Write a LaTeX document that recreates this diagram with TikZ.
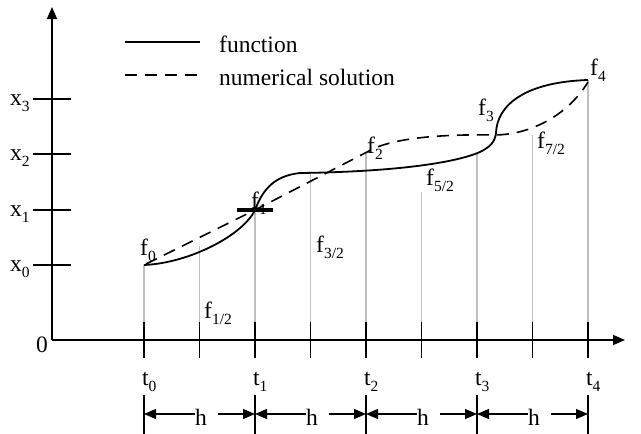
\documentclass[tikz,border=0pt]{standalone}
\usepackage{fontspec}
\setmainfont{Liberation Serif}
\usetikzlibrary{arrows.meta}
\newcommand{\sbx}[1]{\raisebox{-6pt}{\fontsize{15.5}{15.5}\selectfont #1}}
\begin{document}
\begin{tikzpicture}[x=1pt,y=-1pt,
  lab/.style={inner sep=0pt, font=\fontsize{23.5}{26}\selectfont, anchor=base west},
  axis/.style={line width=1.6pt, -{Triangle[length=12pt,width=10pt]}},
  tickmark/.style={line width=1.6pt},
  guide/.style={line width=1.6pt, draw=black!25},
  fun/.style={line width=1.8pt},
  num/.style={line width=1.6pt, dash pattern=on 12pt off 8pt},
  dimarr/.style={line width=1.3pt, -{Triangle[length=12pt,width=10pt]}},
  dimline/.style={line width=1.6pt},
]
\useasboundingbox (0,0) rectangle (641,434);

% axes
\coordinate (O) at (52,340);
\coordinate (Ytop) at (52,7);
\coordinate (Xend) at (625,340);
\draw[axis] (O) -- (Ytop);
\draw[axis] (O) -- (Xend);
\node[lab] (zero) at (36,352) {0};

% y ticks and labels
\foreach \y/\n in {99/3,154/2,210/1,265/0}{
  \coordinate (ya\n) at (33,\y);
  \coordinate (yb\n) at (71,\y);
  \draw[tickmark] (ya\n) -- (yb\n);
  \node[lab] (xl\n) at (10,\y+6) {x\sbx{\n}};
}

% guide lines and x ticks
\foreach \i/\top in {0/265,1/246,2/210,3/173,4/153,5/192,6/153,7/135,8/80}{
  \pgfmathsetmacro{\xx}{144+55.5*\i}
  \coordinate (g\i) at (\xx,\top);
  \coordinate (ga\i) at (\xx,322);
  \coordinate (gb\i) at (\xx,358);
  \draw[guide] (g\i) -- (ga\i);
  \draw[tickmark] (ga\i) -- (gb\i);
}

% t labels, dimension lines
\foreach \i in {0,...,4}{
  \pgfmathsetmacro{\xx}{144+111*\i}
  \node[lab] (tl\i) at (\xx-2,385) {t\sbx{\i}};
  \coordinate (da\i) at (\xx,395);
  \coordinate (db\i) at (\xx,434);
  \coordinate (dm\i) at (\xx,414);
  \draw[dimline] (da\i) -- (db\i);
}
\foreach \i/\j in {0/1,1/2,2/3,3/4}{
  \pgfmathsetmacro{\xx}{144+111*\i}
  \node[lab] (h\i) at (\xx+51,425) {h};
  \draw[dimarr] (h\i.west |- dm\i) -- (dm\i);
  \draw[dimarr] ([xshift=11pt]h\i.east |- dm\i) -- (dm\j);
}

% function
\coordinate (F0) at (144,265);
\coordinate (F1) at (255,210);
\coordinate (Fa) at (300,173);
\coordinate (Fb) at (480,152);
\coordinate (F3) at (496,133);
\coordinate (F4) at (588,80);
\draw[fun] (F0) .. controls (190,263) and (243,235) .. (F1)
  .. controls (262,192) and (272,176) .. (Fa)
  .. controls (380,172) and (450,165) .. (Fb)
  .. controls (490,147) and (495,142) .. (F3)
  .. controls (497,105) and (525,82) .. (F4);

% numerical solution
\coordinate (N0) at (146,264);
\coordinate (N2) at (367,152);
\coordinate (N3) at (496,135);
\coordinate (N4) at (588,82);
\draw[num] (N0) -- (F1) -- (N2)
  .. controls (390,138) and (440,134) .. (N3)
  .. controls (535,134) and (570,112) .. (N4);

% bar at f1
\coordinate (B1) at (237,210);
\coordinate (B2) at (273,210);
\draw[line width=4pt] (B1) -- (B2);

% f labels
\node[lab] (f0) at (140,255) {f\sbx{0}};
\node[lab] (fh1) at (204,318) {f\sbx{1/2}};
\node[lab] (f1) at (251,208) {f\sbx{1}};
\node[lab] (fh3) at (316,252) {f\sbx{3/2}};
\node[lab] (f2) at (367,153) {f\sbx{2}};
\node[lab] (fh5) at (426,185) {f\sbx{5/2}};
\node[lab] (f3) at (478,115) {f\sbx{3}};
\node[lab] (fh7) at (537,148) {f\sbx{7/2}};
\node[lab] (f4) at (590,75) {f\sbx{4}};

% legend
\coordinate (L1a) at (125,42);
\coordinate (L1b) at (200,42);
\coordinate (L2a) at (125,75);
\coordinate (L2b) at (200,75);
\draw[fun] (L1a) -- (L1b);
\draw[num] (L2a) -- (L2b);
\node[lab] (lf) at (219,52) {function};
\node[lab] (ln) at (219,85) {numerical solution};
\end{tikzpicture}
\end{document}
